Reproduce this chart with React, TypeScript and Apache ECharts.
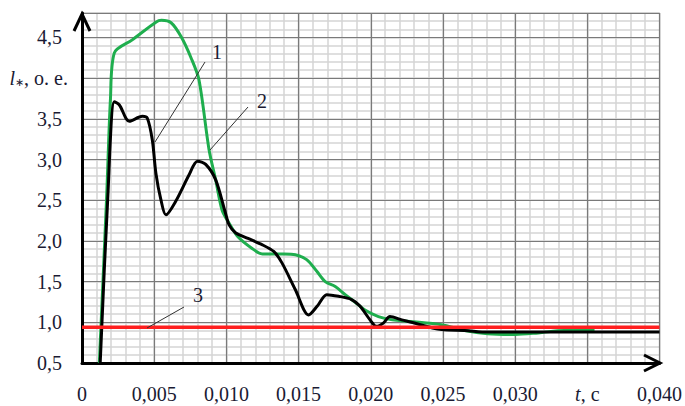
import React, { useEffect, useRef } from 'react';
import * as echarts from 'echarts';

// ---- data ----
const xMajorTicks = [0, 0.005, 0.01, 0.015, 0.02, 0.025, 0.03, 0.035, 0.04];
const xUnitLabel = 't, c';
const yUnitLabel = 'l*, o. e.';
const redLevel = 0.94;

// curve 2 (green)
const greenCurve: [number, number][] = [
  [0.0012, 0.5],
  [0.0017, 2.51],
  [0.00197, 3.74],
  [0.00224, 4.31],
  [0.00348, 4.47],
  [0.00514, 4.69],
  [0.0055, 4.71],
  [0.00617, 4.68],
  [0.00686, 4.51],
  [0.00755, 4.25],
  [0.0081, 3.98],
  [0.0088, 3.12],
  [0.00926, 2.75],
  [0.0097, 2.38],
  [0.01018, 2.22],
  [0.0108, 2.05],
  [0.01176, 1.91],
  [0.0125, 1.84],
  [0.014, 1.84],
  [0.01478, 1.83],
  [0.01556, 1.77],
  [0.01625, 1.63],
  [0.01685, 1.5],
  [0.01754, 1.44],
  [0.01823, 1.34],
  [0.0189, 1.25],
  [0.0196, 1.15],
  [0.02053, 1.07],
  [0.0215, 1.03],
  [0.0227, 1.01],
  [0.0249, 0.97],
  [0.0265, 0.9],
  [0.0281, 0.86],
  [0.03, 0.85],
  [0.0316, 0.87],
  [0.0334, 0.9],
  [0.0355, 0.9],
];

// curve 1 (black)
const blackCurve: [number, number][] = [
  [0.00126, 0.5],
  [0.00178, 2.51],
  [0.00224, 3.71],
  [0.00259, 3.67],
  [0.00328, 3.47],
  [0.00418, 3.53],
  [0.00452, 3.51],
  [0.00487, 3.24],
  [0.00512, 2.83],
  [0.00546, 2.51],
  [0.00581, 2.32],
  [0.0065, 2.49],
  [0.00741, 2.81],
  [0.008, 2.98],
  [0.00857, 2.94],
  [0.00926, 2.75],
  [0.00994, 2.34],
  [0.01018, 2.2],
  [0.01063, 2.1],
  [0.0115, 2.03],
  [0.0124, 1.96],
  [0.01328, 1.87],
  [0.01385, 1.73],
  [0.01478, 1.4],
  [0.0157, 1.09],
  [0.0163, 1.2],
  [0.01695, 1.34],
  [0.01777, 1.32],
  [0.01867, 1.28],
  [0.01925, 1.2],
  [0.01995, 1.03],
  [0.0204, 0.95],
  [0.02087, 0.99],
  [0.02133, 1.07],
  [0.02215, 1.03],
  [0.0226, 1.01],
  [0.0249, 0.91],
  [0.0265, 0.9],
  [0.0281, 0.88],
  [0.032, 0.88],
  [0.04, 0.88],
];

// line 3 (red)
const redLine: [number, number][] = [
  [0, redLevel],
  [0.04, redLevel],
];

const FONT = "'Liberation Serif', 'Times New Roman', serif";
const TXT = '#1a1a33';

export default function App() {
  const ref = useRef<HTMLDivElement>(null);
  useEffect(() => {
    const chart = echarts.init(ref.current!, null, { renderer: 'svg' });
    const near = (a: number, b: number) => Math.abs(a - b) < 1e-9;
    chart.setOption({
      animation: false,
      backgroundColor: '#fff',
      grid: {
        left: 82,
        right: 25,
        top: 13,
        bottom: 43,
        show: true,
        borderColor: '#8a8a8a',
        borderWidth: 1,
        backgroundColor: 'transparent',
      },
      xAxis: [
        {
          type: 'value',
          min: 0,
          max: 0.04,
          interval: 0.005,
          z: 2,
          axisLine: { show: true, onZero: false, lineStyle: { color: '#000', width: 3 } },
          axisTick: { show: false },
          splitLine: { show: true, lineStyle: { color: '#7a7a7a', width: 1.2 } },
          axisLabel: {
            margin: 21,
            fontSize: 20,
            fontFamily: FONT,
            color: TXT,
            showMaxLabel: true,
            formatter: (v: number) => {
              if (near(v, 0)) return '0';
              if (near(v, xMajorTicks[7])) return '{i|t}, c';
              return v.toFixed(3).replace('.', ',');
            },
            rich: {
              i: { fontStyle: 'italic', fontSize: 20, fontFamily: FONT, color: TXT },
            },
          },
        },
        {
          type: 'value',
          min: 0,
          max: 0.04,
          interval: 0.001,
          z: 0,
          axisLine: { show: false },
          axisTick: { show: false },
          axisLabel: { show: false },
          splitLine: { show: true, lineStyle: { color: '#d4d4d4', width: 1.5 } },
        },
      ],
      yAxis: [
        {
          type: 'value',
          min: 0.5,
          max: 4.8,
          interval: 0.5,
          z: 2,
          axisLine: { show: true, onZero: false, lineStyle: { color: '#000', width: 3 } },
          axisTick: { show: false },
          splitLine: { show: true, lineStyle: { color: '#7a7a7a', width: 1.2 } },
          axisLabel: {
            margin: 20,
            fontSize: 20,
            fontFamily: FONT,
            color: TXT,
            formatter: (v: number) => {
              if (near(v, 4) || v > 4.6) return '';
              return v.toFixed(1).replace('.', ',');
            },
          },
        },
        {
          type: 'value',
          min: 0.5,
          max: 4.8,
          interval: 0.1,
          z: 0,
          axisLine: { show: false },
          axisTick: { show: false },
          axisLabel: { show: false },
          splitLine: { show: true, lineStyle: { color: '#d4d4d4', width: 1.5 } },
        },
      ],
      series: [
        {
          name: '2',
          type: 'line',
          xAxisIndex: 0,
          yAxisIndex: 0,
          data: greenCurve,
          smooth: 0.3,
          showSymbol: false,
          lineStyle: { color: '#1fae4e', width: 3 },
          z: 3,
        },
        {
          name: '1',
          type: 'line',
          xAxisIndex: 0,
          yAxisIndex: 0,
          data: blackCurve,
          smooth: 0.3,
          showSymbol: false,
          lineStyle: { color: '#000', width: 3 },
          z: 4,
        },
        {
          name: '3',
          type: 'line',
          xAxisIndex: 0,
          yAxisIndex: 0,
          data: redLine,
          showSymbol: false,
          lineStyle: { color: '#ff1f1f', width: 3.5 },
          z: 5,
        },
      ],
      graphic: [
        {
          type: 'polyline',
          shape: { points: [[74, 31], [82, 14], [90, 31]] },
          style: { stroke: '#000', lineWidth: 3, fill: 'none' },
          z: 10,
        },
        {
          type: 'polyline',
          shape: { points: [[644, 355], [660, 363], [644, 371]] },
          style: { stroke: '#000', lineWidth: 3, fill: 'none' },
          z: 10,
        },
        {
          type: 'text',
          x: 68,
          y: 78,
          style: {
            text: '{i|l}{s|\u2217}{n|, o. e.}',
            align: 'right',
            verticalAlign: 'middle',
            rich: {
              i: { fontStyle: 'italic', fontSize: 20, fontFamily: FONT, fill: TXT },
              s: { fontSize: 11, fontFamily: FONT, fill: TXT, padding: [8, 0, 0, 0] },
              n: { fontSize: 20, fontFamily: FONT, fill: TXT },
            },
          },
          z: 10,
        },
        { type: 'line', shape: { x1: 205, y1: 62, x2: 155, y2: 142 }, style: { stroke: '#333', lineWidth: 1 }, z: 10 },
        { type: 'line', shape: { x1: 248, y1: 107, x2: 210, y2: 150 }, style: { stroke: '#333', lineWidth: 1 }, z: 10 },
        { type: 'line', shape: { x1: 184, y1: 307, x2: 147, y2: 328 }, style: { stroke: '#333', lineWidth: 1 }, z: 10 },
        {
          type: 'text', x: 217, y: 52,
          style: { text: '1', fontSize: 20, fontFamily: FONT, fill: TXT, align: 'center', verticalAlign: 'middle' },
          z: 10,
        },
        {
          type: 'text', x: 262, y: 101,
          style: { text: '2', fontSize: 20, fontFamily: FONT, fill: TXT, align: 'center', verticalAlign: 'middle' },
          z: 10,
        },
        {
          type: 'text', x: 198, y: 295,
          style: { text: '3', fontSize: 20, fontFamily: FONT, fill: TXT, align: 'center', verticalAlign: 'middle' },
          z: 10,
        },
      ],
    });
    return () => chart.dispose();
  }, []);
  return (
    <div
      ref={ref}
      style={{ position: 'fixed', left: 0, top: 0, width: 685, height: 406, background: '#fff' }}
    />
  );
}
